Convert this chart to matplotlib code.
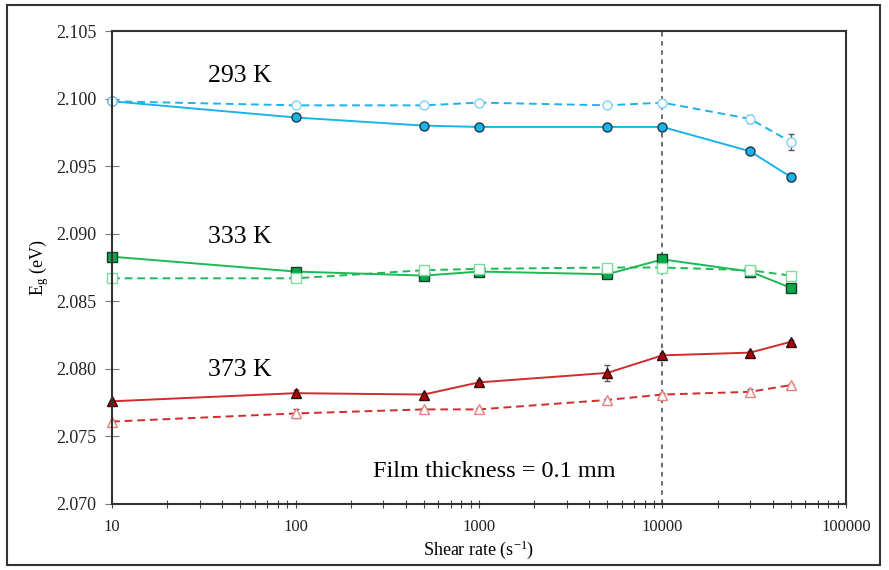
import numpy as np
import matplotlib.pyplot as plt
from matplotlib.patches import Rectangle
from matplotlib.ticker import LogLocator, NullFormatter

# Data
shear = [10, 100, 500, 1000, 5000, 10000, 30000, 50000]

e293_solid = [2.0998, 2.0986, 2.0980, 2.0979, 2.0979, 2.0979, 2.0961, 2.0942]
e293_solid_err = [0.0001, 0.0001, 0.0001, 0.0001, 0.0001, 0.0001, 0.0002, 0.0003]
e293_dash = [2.0998, 2.0995, 2.0995, 2.0997, 2.0995, 2.0997, 2.0985, 2.0968]
e293_dash_err = [0.0001, 0.0001, 0.0001, 0.0001, 0.0001, 0.0001, 0.0003, 0.0006]

e333_solid = [2.0883, 2.0872, 2.0869, 2.0872, 2.0870, 2.0881, 2.0872, 2.0860]
e333_solid_err = [0.0001, 0.0001, 0.0001, 0.0001, 0.0001, 0.0002, 0.0001, 0.0002]
e333_dash = [2.0867, 2.0867, 2.0873, 2.0874, 2.0875, 2.0875, 2.0873, 2.0869]
e333_dash_err = [0.0001, 0.0001, 0.0001, 0.0001, 0.0001, 0.0002, 0.0001, 0.0002]

e373_solid = [2.0776, 2.0782, 2.0781, 2.0790, 2.0797, 2.0810, 2.0812, 2.0820]
e373_solid_err = [0.0001, 0.0002, 0.0001, 0.0002, 0.0006, 0.0002, 0.0001, 0.0001]
e373_dash = [2.0761, 2.0767, 2.0770, 2.0770, 2.0777, 2.0781, 2.0783, 2.0788]
e373_dash_err = [0.0001, 0.0003, 0.0001, 0.0001, 0.0001, 0.0001, 0.0002, 0.0001]

plt.rcParams['font.family'] = ['Liberation Serif', 'DejaVu Serif']
plt.rcParams['mathtext.default'] = 'regular'

fig = plt.figure(figsize=(8.89, 5.70), dpi=100)
ax = fig.add_axes([0.126, 0.1158, 0.8256, 0.8298])

# outer frame
fig.patches.append(Rectangle((0.008, 0.008), 0.982, 0.983, transform=fig.transFigure,
                             fill=False, edgecolor='#333333', linewidth=1.5))

blue = '#1DB3EA'
green = '#1DB954'
red = '#D22B2B'

series = [
    (e293_solid, e293_solid_err, blue, 'o', '-', blue, '#1a3a4a'),
    (e293_dash, e293_dash_err, blue, 'o', '--', 'white', '#7FD3F2'),
    (e333_solid, e333_solid_err, green, 's', '-', '#0AA848', '#1a3a2a'),
    (e333_dash, e333_dash_err, green, 's', '--', 'white', '#7FDCA0'),
    (e373_solid, e373_solid_err, red, '^', '-', '#B00000', '#2a1010'),
    (e373_dash, e373_dash_err, red, '^', '--', 'white', '#E88080'),
]
for vals, err, col, mk, ls, mfc, mec in series:
    line, caps, bars = ax.errorbar(shear, vals, yerr=err, color=col, linestyle=ls, linewidth=1.4,
                                   marker=mk, markersize=6.5, markerfacecolor=mfc,
                                   markeredgecolor=mec, markeredgewidth=1.0, ecolor='#555555',
                                   elinewidth=0.9, capsize=2,
                                   dashes=(4, 2.5) if ls == '--' else (None, None))
    line.set_clip_on(False)

ax.axvline(10000, color='#444444', linestyle='--', linewidth=1.1, dashes=(3, 3), zorder=0)

ax.set_xscale('log')
ax.set_xlim(10, 100000)
ax.set_ylim(2.070, 2.105)
yt = np.arange(2.070, 2.1051, 0.005)
ax.set_yticks(yt)
ax.set_yticklabels(['%.3f' % v for v in yt])
ax.set_xticks([10, 100, 1000, 10000, 100000])
ax.set_xticklabels(['10', '100', '1000', '10000', '100000'])
ax.xaxis.set_minor_locator(LogLocator(base=10, subs=np.arange(2, 10)))
ax.xaxis.set_minor_formatter(NullFormatter())

ax.tick_params(axis='y', labelsize=13, colors='#222222', direction='inout')
ax.tick_params(axis='x', which='both', labelsize=12, colors='#222222', direction='inout')
ax.tick_params(axis='x', which='major', length=6, width=0.8, color='#444444', pad=8)
ax.tick_params(axis='x', which='minor', length=6, width=0.8, color='#444444')
ax.tick_params(axis='y', which='major', length=10, width=0.8, color='#777777', pad=6)

for sp in ax.spines.values():
    sp.set_linewidth(1.5)
    sp.set_color('#333333')

ax.set_xlabel('Shear rate (s$^{-1}$)', fontsize=13, labelpad=2)
ax.set_ylabel('E$_g$ (eV)', fontsize=13, labelpad=4)

ax.text(0.131, 0.905, '293 K', transform=ax.transAxes, fontsize=18.5, ha='left', va='center')
ax.text(0.131, 0.565, '333 K', transform=ax.transAxes, fontsize=18.5, ha='left', va='center')
ax.text(0.131, 0.283, '373 K', transform=ax.transAxes, fontsize=18.5, ha='left', va='center')
ax.text(0.355, 0.068, 'Film thickness = 0.1 mm', transform=ax.transAxes, fontsize=17.5,
        ha='left', va='center')

fig.savefig('out.png', dpi=100)
